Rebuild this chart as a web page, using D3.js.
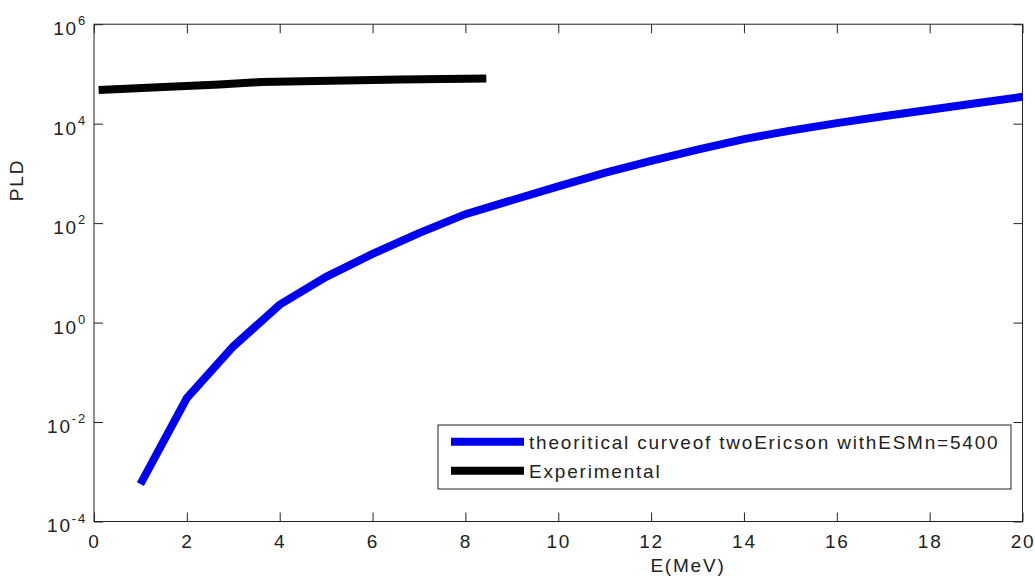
<!DOCTYPE html>
<meta charset="utf-8">
<style>
body { margin: 0; background: #fff; }
text { font-family: "Liberation Sans", Arial, sans-serif; fill: #222; letter-spacing: 1.8px; }
.line { fill: none; stroke-width: 8px; stroke-linejoin: miter; stroke-linecap: butt; }
.axis path, .axis line { stroke: #222; }
</style>
<svg width="1035" height="578">
  <rect fill="#fff" width="100%" height="100%"></rect>
</svg>
<script src="https://d3js.org/d3.v7.min.js"></script>
<script>

// theoretical curve (two-component Ericson, ESMn=5400), log10 of PLD
var theoE = [1, 2, 3, 4, 5, 6, 7, 8, 9, 10, 11, 12, 13, 14, 15, 16, 17, 18, 19, 20];
var theoLog = [-3.25, -1.52, -0.48, 0.36, 0.92, 1.38, 1.80, 2.18, 2.46, 2.74,
               3.01, 3.25, 3.48, 3.69, 3.86, 4.01, 4.15, 4.28, 4.41, 4.54];

// experimental
var expE = [0.1, 1.5, 2.7, 3.6, 4.8, 6.6, 8.45];
var expPLD = [47500, 54700, 61400, 68900, 72100, 77500, 81100];

var xTicks = [0, 2, 4, 6, 8, 10, 12, 14, 16, 18, 20];
var yTicks = [1e-4, 1e-2, 1, 1e2, 1e4, 1e6];

var legendLabels = ["theoritical curveof twoEricson withESMn=5400", "Experimental"];
var colors = ["#0000f0", "#000"];

var m = {left: 94, right: 1022.5, top: 24.2, bottom: 521.5};

var svg = d3.select("svg");

var x = d3.scaleLinear().domain([0, 20]).range([m.left, m.right]);
var y = d3.scaleLog().domain([1e-4, 1e6]).range([m.bottom, m.top]);

// frame
svg.append("rect")
    .attr("x", m.left).attr("y", m.top)
    .attr("width", m.right - m.left).attr("height", m.bottom - m.top)
    .attr("fill", "none").attr("stroke", "#222");

// axes, ticks pointing inward
var gx = svg.append("g").attr("class", "axis")
    .attr("transform", "translate(0," + m.bottom + ")")
    .call(d3.axisBottom(x).tickValues(xTicks).tickSizeInner(-9).tickSizeOuter(0).tickPadding(13));
gx.selectAll("text").attr("font-size", "19px");

svg.append("g").attr("class", "axis")
    .attr("transform", "translate(0," + m.top + ")")
    .call(d3.axisTop(x).tickValues(xTicks).tickSizeInner(-9).tickSizeOuter(0).tickFormat(""));

var gy = svg.append("g").attr("class", "axis")
    .attr("transform", "translate(" + m.left + ",0)")
    .call(d3.axisLeft(y).tickValues(yTicks).tickSizeInner(-9).tickSizeOuter(0).tickPadding(7));
gy.selectAll(".tick text").each(function(d) {
  var t = d3.select(this).text("").attr("font-size", "19px").attr("dy", "0.55em");
  t.append("tspan").text("10");
  t.append("tspan").attr("dy", "-0.75em").attr("font-size", "13px").text(Math.round(Math.log10(d)));
});

svg.append("g").attr("class", "axis")
    .attr("transform", "translate(" + m.right + ",0)")
    .call(d3.axisRight(y).tickValues(yTicks).tickSizeInner(-9).tickSizeOuter(0).tickFormat(""));

svg.selectAll(".axis .domain").remove();

// curves
var line = d3.line().x(function(d) { return x(d[0]); }).y(function(d) { return y(d[1]); });

svg.append("path").attr("class", "line")
    .datum(theoE.map(function(e, i) { return [e, Math.pow(10, theoLog[i])]; }))
    .attr("stroke", colors[0])
    .attr("d", line);

svg.append("path").attr("class", "line")
    .datum(expE.map(function(e, i) { return [e, expPLD[i]]; }))
    .attr("stroke", colors[1])
    .attr("d", line);

// labels
svg.append("text")
    .attr("x", 688).attr("y", 572)
    .attr("text-anchor", "middle").attr("font-size", "19px")
    .text("E(MeV)");

svg.append("text")
    .attr("transform", "translate(23,180) rotate(-90)")
    .attr("text-anchor", "middle").attr("font-size", "19px")
    .text("PLD");

// legend
var legend = svg.append("g");
legend.append("rect")
    .attr("x", 438).attr("y", 425).attr("width", 573).attr("height", 64)
    .attr("fill", "#fff").attr("stroke", "#222");

var rows = legend.selectAll(".row").data(legendLabels).enter().append("g")
    .attr("transform", function(d, i) { return "translate(0," + (441.7 + i * 29) + ")"; });
rows.append("line")
    .attr("x1", 451).attr("x2", 524)
    .attr("stroke", function(d, i) { return colors[i]; })
    .attr("stroke-width", 8);
rows.append("text")
    .attr("x", 529).attr("y", 7.5)
    .attr("font-size", "19px")
    .text(function(d) { return d; });

</script>
